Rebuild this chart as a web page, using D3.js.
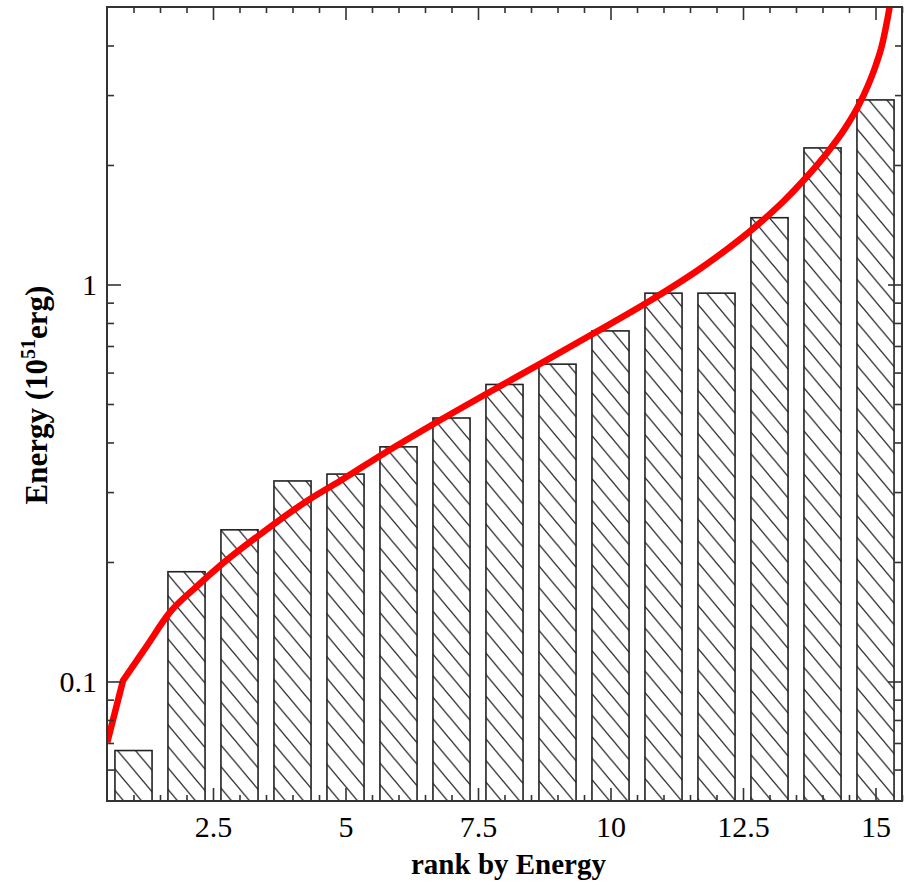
<!DOCTYPE html>
<html>
<head>
<meta charset="utf-8">
<script src="https://cdn.jsdelivr.net/npm/d3@7"></script>
<style>
  body { margin: 0; background: #fff; }
  svg { display: block; font-family: "Liberation Serif", "Times New Roman", serif; }
</style>
</head>
<body>
<div id="chart"></div>
<script>
// bar data: rank and energy (10^51 erg)
const ranks = [1, 2, 3, 4, 5, 6, 7, 8, 9, 10, 11, 12, 13, 14, 15];
const energies = [0.067, 0.189, 0.241, 0.320, 0.333, 0.390, 0.461, 0.560, 0.630, 0.764, 0.951, 0.951, 1.473, 2.208, 2.917];

// red fitted curve
const curveX = [0.506, 0.802, 1.236, 1.689, 2.179, 2.670, 3.349, 4.330, 4.896, 5.708, 6.726, 7.858, 8.670, 9.670, 10.745, 11.689, 12.821, 13.255, 13.670, 14.104, 14.425, 14.670, 14.858, 15.009, 15.123, 15.198, 15.255, 15.292];
const curveY = [0.0703, 0.1005, 0.1221, 0.1495, 0.1729, 0.1976, 0.2325, 0.2882, 0.3199, 0.3742, 0.4505, 0.5490, 0.6310, 0.7513, 0.9097, 1.0954, 1.4308, 1.616, 1.847, 2.161, 2.473, 2.806, 3.170, 3.577, 4.013, 4.465, 4.899, 5.253];

// ticks
const xMajor = [2.5, 5, 7.5, 10, 12.5, 15];
const xMinor = [1, 1.5, 2, 3, 3.5, 4, 4.5, 5.5, 6, 6.5, 7, 8, 8.5, 9, 9.5, 10.5, 11, 11.5, 12, 13, 13.5, 14, 14.5, 15.5];
const yMajor = [0.1, 1];
const yMinor = [0.06, 0.07, 0.08, 0.09, 0.2, 0.3, 0.4, 0.5, 0.6, 0.7, 0.8, 0.9, 2, 3, 4];

const margin = { top: 7, right: 5, bottom: 84, left: 107 },
      width = 907 - margin.left - margin.right,
      height = 885 - margin.top - margin.bottom;

const svgRoot = d3.select("#chart")
    .append("svg")
    .attr("width", 907)
    .attr("height", 885);

const defs = svgRoot.append("defs");

const hatch = defs.append("pattern")
    .attr("id", "hatch")
    .attr("patternUnits", "userSpaceOnUse")
    .attr("width", 18)
    .attr("height", 21.5);
hatch.append("rect").attr("width", 18).attr("height", 21.5).attr("fill", "#fff");
hatch.append("path")
    .attr("d", "M0,0 L18,21.5 M16,-2.4 L20,2.4 M-2,19.1 L2,23.9")
    .attr("stroke", "#333")
    .attr("stroke-width", 1.4)
    .attr("fill", "none");

defs.append("clipPath").attr("id", "plot-clip")
    .append("rect").attr("width", width).attr("height", height);

const svg = svgRoot.append("g")
    .attr("transform", `translate(${margin.left},${margin.top})`);

const x = d3.scaleLinear()
    .domain([0.5, 15.5])
    .range([0, width]);

const y = d3.scaleLog()
    .domain([0.05, 5])
    .range([height, 0]);

const barW = x(0.7) - x(0);

// bars
svg.selectAll(".bar")
    .data(ranks.map((r, i) => ({ rank: r, energy: energies[i] })))
    .join("rect")
    .attr("class", "bar")
    .attr("x", d => x(d.rank) - barW / 2)
    .attr("y", d => y(d.energy))
    .attr("width", barW)
    .attr("height", d => height - y(d.energy))
    .attr("fill", "url(#hatch)")
    .attr("stroke", "#222")
    .attr("stroke-width", 1.6);

// curve: straight first piece (sharp kink), smooth after it
const pts = curveX.map((v, i) => [v, curveY[i]]);

const straight = d3.line().x(d => x(d[0])).y(d => y(d[1]));
const smooth = d3.line().x(d => x(d[0])).y(d => y(d[1])).curve(d3.curveMonotoneX);

const curveG = svg.append("g").attr("clip-path", "url(#plot-clip)");
curveG.append("path")
    .attr("d", straight(pts.slice(0, 2)) + smooth(pts.slice(1)).replace(/^M[^LC]*/, ""))
    .attr("fill", "none")
    .attr("stroke", "#ff0000")
    .attr("stroke-width", 6.5)
    .attr("stroke-linejoin", "round");

// axes (ticks pointing inward on all four sides)
function styleAxis(g) {
    g.select(".domain").remove();
    g.selectAll(".tick line").attr("stroke", "#333").attr("stroke-width", 1.6);
    g.selectAll("text")
        .attr("fill", "#000")
        .style("font-size", "30px")
        .style("font-family", "'Liberation Serif', 'Times New Roman', serif");
}

svg.append("g")
    .attr("transform", `translate(0,${height})`)
    .call(d3.axisBottom(x).tickValues(xMajor).tickSize(-13).tickPadding(15).tickFormat(d3.format("")))
    .call(styleAxis);
svg.append("g")
    .attr("transform", `translate(0,${height})`)
    .call(d3.axisBottom(x).tickValues(xMinor).tickSize(-6).tickFormat(""))
    .call(styleAxis);
svg.append("g")
    .call(d3.axisTop(x).tickValues(xMajor).tickSize(-13).tickFormat(""))
    .call(styleAxis);
svg.append("g")
    .call(d3.axisTop(x).tickValues(xMinor).tickSize(-6).tickFormat(""))
    .call(styleAxis);

svg.append("g")
    .call(d3.axisLeft(y).tickValues(yMajor).tickSize(-14).tickPadding(10).tickFormat(d3.format("")))
    .call(styleAxis);
svg.append("g")
    .call(d3.axisLeft(y).tickValues(yMinor).tickSize(-7).tickFormat(""))
    .call(styleAxis);
svg.append("g")
    .attr("transform", `translate(${width},0)`)
    .call(d3.axisRight(y).tickValues(yMajor).tickSize(-14).tickFormat(""))
    .call(styleAxis);
svg.append("g")
    .attr("transform", `translate(${width},0)`)
    .call(d3.axisRight(y).tickValues(yMinor).tickSize(-7).tickFormat(""))
    .call(styleAxis);

// frame
svg.append("rect")
    .attr("width", width)
    .attr("height", height)
    .attr("fill", "none")
    .attr("stroke", "#333")
    .attr("stroke-width", 2);

// axis titles
svg.append("text")
    .attr("x", width / 2 + 4)
    .attr("y", height + 73)
    .attr("text-anchor", "middle")
    .style("font-size", "29px")
    .style("font-weight", "bold")
    .text("rank by Energy");

const yTitle = svg.append("text")
    .attr("transform", `translate(-60,388) rotate(-90)`)
    .attr("text-anchor", "middle")
    .style("font-size", "31px")
    .style("font-weight", "bold");
yTitle.append("tspan").text("Energy (10");
yTitle.append("tspan").attr("dy", -12).style("font-size", "20px").text("51");
yTitle.append("tspan").attr("dy", 12).text("erg)");
</script>
</body>
</html>
